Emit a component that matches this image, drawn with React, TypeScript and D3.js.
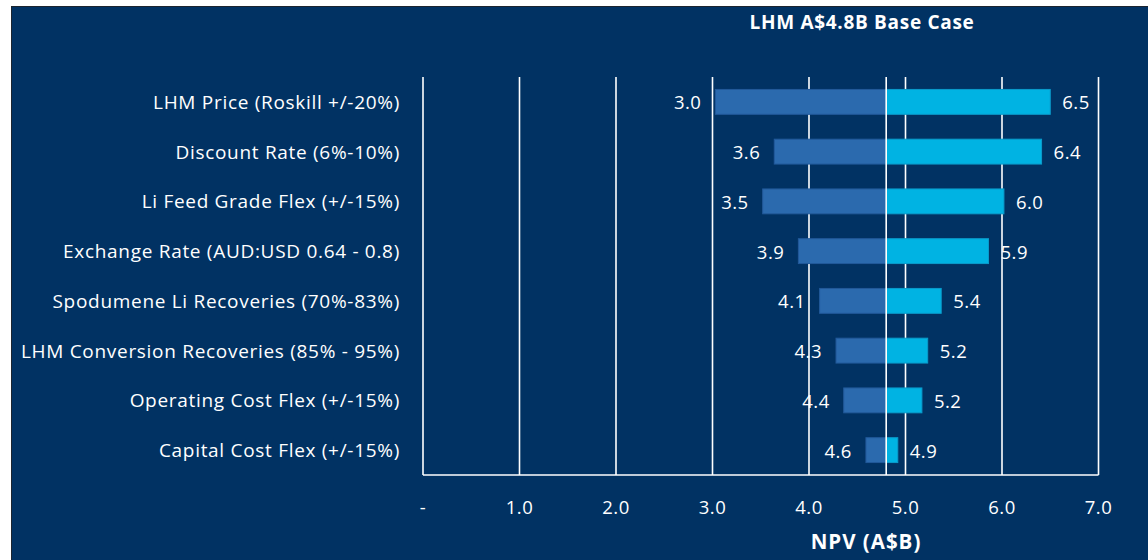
import React from "react";
import * as d3 from "d3";

const categories = [
  "LHM Price (Roskill +/-20%)",
  "Discount Rate (6%-10%)",
  "Li Feed Grade Flex (+/-15%)",
  "Exchange Rate (AUD:USD 0.64 - 0.8)",
  "Spodumene Li Recoveries (70%-83%)",
  "LHM Conversion Recoveries (85% - 95%)",
  "Operating Cost Flex (+/-15%)",
  "Capital Cost Flex (+/-15%)",
];
const lowValues = [3.03, 3.64, 3.52, 3.89, 4.11, 4.28, 4.36, 4.59];
const highValues = [6.5, 6.41, 6.02, 5.86, 5.37, 5.23, 5.17, 4.92];
const baseCase = 4.8;
const xTicks = [0, 1, 2, 3, 4, 5, 6, 7];
const title = "LHM A$4.8B Base Case";
const xTitle = "NPV (A$B)";

const W = 1148;
const H = 560;
const NAVY = "#013263";
const LOW = "#2B6AAE";
const HIGH = "#00B3E3";
const FONT = "'Open Sans', 'Noto Sans', sans-serif";

export default function App() {
  const x = d3.scaleLinear().domain([0, 7]).range([423, 1098.5]);
  const y = d3.scaleBand<string>().domain(categories).range([77, 475]).paddingInner(0.5).paddingOuter(0.25);
  const bw = y.bandwidth();
  const fmt = d3.format(".1f");

  return (
    <svg width={W} height={H} style={{ position: "absolute", left: 0, top: 0 }}>
      <rect x={0} y={0} width={W} height={H} fill="#ffffff" />
      <rect x={11} y={6} width={W - 11} height={H - 6} fill="#1c2530" />
      <rect x={12} y={7} width={W - 12} height={H - 7} fill={NAVY} />

      <text x={862} y={22} fill="#fff" fontFamily={FONT} fontWeight={700} fontSize={19} letterSpacing={0.7} textAnchor="middle" dominantBaseline="central">
        {title}
      </text>

      {xTicks.map((t) => (
        <line key={"g" + t} x1={x(t)} x2={x(t)} y1={77} y2={475} stroke="#fff" strokeWidth={1.6} />
      ))}
      <line x1={x(0)} x2={x(7)} y1={475} y2={475} stroke="#fff" strokeWidth={1.6} />

      {categories.map((c, i) => {
        const yc = (y(c) as number) + bw / 2;
        const lo = lowValues[i];
        const hi = highValues[i];
        return (
          <g key={c}>
            <rect x={x(lo)} y={y(c)} width={x(baseCase) - x(lo)} height={bw} fill={LOW} stroke="#22599a" strokeWidth={1} />
            <rect x={x(baseCase)} y={y(c)} width={x(hi) - x(baseCase)} height={bw} fill={HIGH} stroke="#0a9bcb" strokeWidth={1} />
            <text x={400} y={yc} fill="#fff" fontFamily={FONT} fontSize={19} letterSpacing={0.7} textAnchor="end" dominantBaseline="central">
              {c}
            </text>
            <text x={x(lo) - 14} y={yc} fill="#fff" fontFamily={FONT} fontSize={18.5} letterSpacing={0.5} textAnchor="end" dominantBaseline="central">
              {fmt(lo)}
            </text>
            <text x={x(hi) + 12} y={yc} fill="#fff" fontFamily={FONT} fontSize={18.5} letterSpacing={0.5} textAnchor="start" dominantBaseline="central">
              {fmt(hi)}
            </text>
          </g>
        );
      })}

      <line x1={x(baseCase)} x2={x(baseCase)} y1={77} y2={475} stroke="#fff" strokeWidth={1.6} />

      {xTicks.map((t) => (
        <text key={"t" + t} x={x(t)} y={506} fill="#fff" fontFamily={FONT} fontSize={18.5} letterSpacing={0.5} textAnchor="middle" dominantBaseline="central">
          {t === 0 ? "-" : fmt(t)}
        </text>
      ))}

      <text x={866} y={541} fill="#fff" fontFamily={FONT} fontWeight={700} fontSize={20.5} letterSpacing={1} textAnchor="middle" dominantBaseline="central">
        {xTitle}
      </text>
    </svg>
  );
}
